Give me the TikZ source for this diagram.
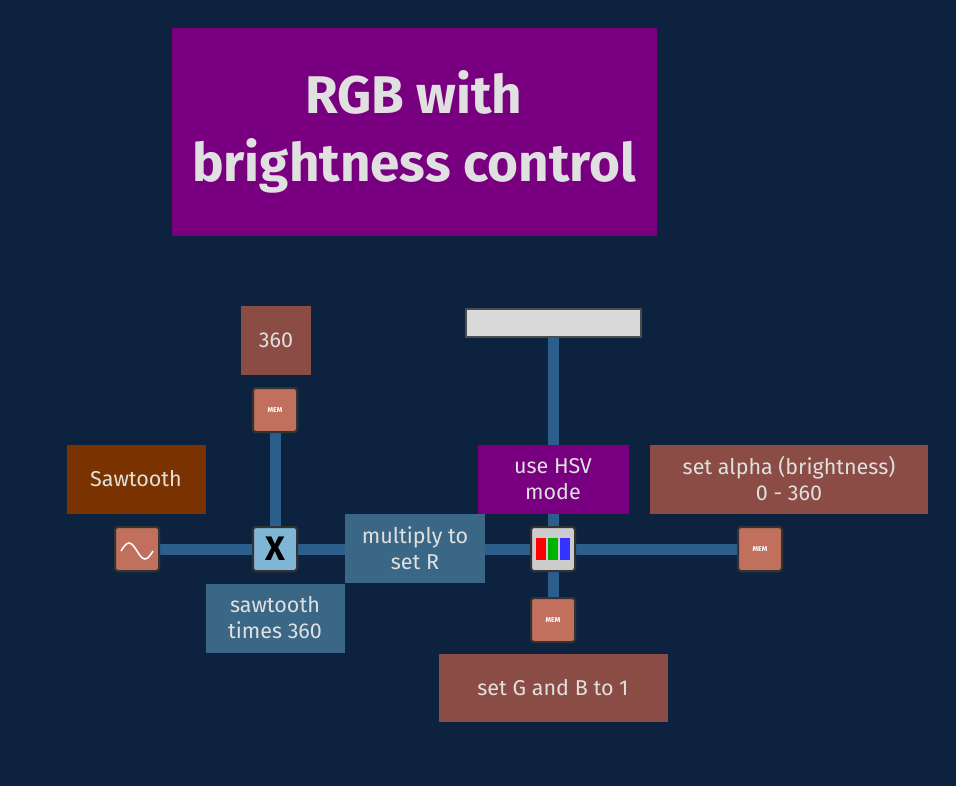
\documentclass[tikz,border=0pt]{standalone}
\usepackage{fontspec}
\setmainfont{Fira Sans}
\begin{document}
\begin{tikzpicture}[x=1pt,y=-1pt,
  lbl/.style={anchor=north west,inner sep=0pt,text=white!88!black,align=center,font=\fontsize{21.5}{26}\selectfont},
  wire/.style={draw=wirec,line width=11pt},
  comp/.style={draw=black!80,line width=2pt,rounded corners=3pt,minimum size=44pt,inner sep=0pt}]
\definecolor{bg}{HTML}{0D223F}
\definecolor{wirec}{HTML}{2B5E8C}
\definecolor{brn}{HTML}{8A4C44}
\definecolor{org}{HTML}{7A3300}
\definecolor{bgr}{HTML}{3B6786}
\definecolor{pur}{HTML}{780080}
\definecolor{mem}{HTML}{C0705C}
\definecolor{mulc}{HTML}{7FB6D6}
\useasboundingbox[fill=bg] (0,0) rectangle (956,786);
% title
\fill[pur] (172,28) rectangle (657,236);
\node[text=white!88!black,align=center,font=\fontsize{53}{68}\selectfont\bfseries] (title) at (414,132) {RGB with\\brightness control};
% components (named, for wires)
\coordinate (lampc) at (553,323);
\node[comp,fill=mem] (saw) at (137,549) {};
\node[comp,fill=mulc] (mul) at (275,549) {};
\node[comp,fill=mem] (mem1) at (275,410) {};
\node[comp,fill=gray!40] (rgb) at (553,549) {};
\node[comp,fill=mem] (mem2) at (553,620) {};
\node[comp,fill=mem] (mem3) at (760,549) {};
\node[minimum width=175pt,minimum height=28pt,inner sep=0pt] (lamp) at (lampc) {};
% wires
\draw[wire] (saw.center) -- (mul.center);
\draw[wire] (mul.center) -- (rgb.center);
\draw[wire] (rgb.center) -- (mem3.center);
\draw[wire] (mem1.center) -- (mul.center);
\draw[wire] (lamp.center) -- (rgb.center);
\draw[wire] (rgb.center) -- (mem2.center);
% components on top
\node[comp,fill=mem] at (137,549) {};
\draw[white,line width=1.5pt] (121,551) sin (129,543) cos (137,551) sin (145,559) cos (153,551);
\node[comp,fill=mulc] at (275,549) {\fontsize{34}{34}\selectfont\bfseries\textcolor{black}{X}};
\node[comp,fill=mem] at (275,410) {\scriptsize\bfseries\textcolor{white}{MEM}};
\node[comp,fill=gray!40] at (553,549) {};
\fill[red] (536,538) rectangle (546,560);
\fill[green!70!black] (548,538) rectangle (558,560);
\fill[blue!80] (560,538) rectangle (570,560);
\node[comp,fill=mem] at (553,620) {\scriptsize\bfseries\textcolor{white}{MEM}};
\node[comp,fill=mem] at (760,549) {\scriptsize\bfseries\textcolor{white}{MEM}};
\node[draw=gray!60!black,line width=2pt,fill=gray!30,minimum width=175pt,minimum height=28pt,inner sep=0pt] at (lampc) {};
% labels
\fill[brn] (241,306) rectangle (311,375); \node[lbl,anchor=center] (l360) at (276,340) {360};
\fill[org] (67,445) rectangle (206,514); \node[lbl,anchor=center] (lsaw) at (136,479) {Sawtooth};
\fill[bgr] (206,584) rectangle (345,653); \node[lbl,anchor=center] (ltimes) at (275,618) {sawtooth\\times 360};
\fill[bgr] (345,514) rectangle (485,583); \node[lbl,anchor=center] (lmul) at (415,548) {multiply to\\set R};
\fill[pur] (478,445) rectangle (629,514); \node[lbl,anchor=center] (lhsv) at (553,479) {use HSV\\mode};
\fill[brn] (650,445) rectangle (928,514); \node[lbl,anchor=center] (lalpha) at (789,479) {set alpha (brightness)\\0 - 360};
\fill[brn] (439,654) rectangle (668,722); \node[lbl,anchor=center] (lgb) at (553,688) {set G and B to 1};
\end{tikzpicture}
\end{document}
